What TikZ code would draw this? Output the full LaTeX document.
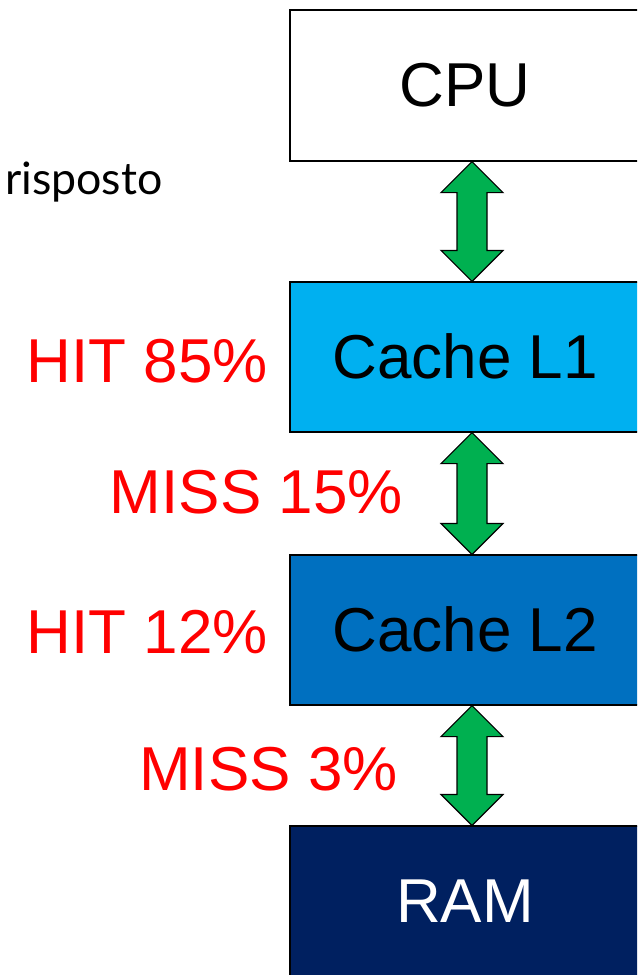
\documentclass[tikz,border=0pt]{standalone}
\usepackage{fontspec}
\setmainfont{Liberation Sans}
\newfontfamily\gillfont{Lato}
\usetikzlibrary{calc}
\definecolor{lone}{HTML}{00B0F0}
\definecolor{ltwo}{HTML}{0070C0}
\definecolor{ramblue}{HTML}{002060}
\definecolor{arrgreen}{HTML}{00B050}
\definecolor{hitred}{HTML}{FF0000}
\newcommand{\vdarrow}[2]{%
  \draw[garrow] let \p1=($(#1.south)+(7,0)$), \p2=($(#2.north)+(7,0)$) in
   (\x1,\y1) -- (\x1+23.25pt,\y1-23.25pt) -- (\x1+11.25pt,\y1-23.25pt)
   -- (\x2+11.25pt,\y2+23.25pt) -- (\x2+23.25pt,\y2+23.25pt) -- (\x2,\y2)
   -- (\x2-23.25pt,\y2+23.25pt) -- (\x2-11.25pt,\y2+23.25pt)
   -- (\x1-11.25pt,\y1-23.25pt) -- (\x1-23.25pt,\y1-23.25pt) -- cycle;}
\tikzset{
  level/.style={draw=black, line width=0.9pt, minimum width=262.5pt, minimum height=112.5pt,
    inner sep=0pt, font=\fontsize{46.5}{46.5}\selectfont, text height=32pt, text depth=0pt},
  garrow/.style={draw=black, line width=0.9pt, fill=arrgreen, line join=miter},
  ratelabel/.style={text=hitred, inner sep=0pt, anchor=base east, font=\fontsize{46.5}{46.5}\selectfont}
}
\begin{document}
\begin{tikzpicture}[x=0.75pt,y=-0.75pt]
\useasboundingbox (0,0) rectangle (637,975);
\clip (0,0) rectangle (637,975);
\node[level, fill=white, minimum height=113.25pt] (cpu) at (465,85.5) {CPU};
\node[level, fill=lone] (l1) at (465,357) {Cache L1};
\node[level, fill=ltwo] (l2) at (465,630) {Cache L2};
\node[level, fill=ramblue, text=white] (ram) at (465,901) {RAM};
\vdarrow{cpu}{l1}
\vdarrow{l1}{l2}
\vdarrow{l2}{ram}
\node[ratelabel] (hit1) at (268,382) {HIT 85\%};
\node[ratelabel] (miss1) at (403,513) {MISS 15\%};
\node[ratelabel] (hit2) at (268,653) {HIT 12\%};
\node[ratelabel] (miss2) at (398,790) {MISS 3\%};
\node[inner sep=0pt, anchor=base west, font=\gillfont\fontsize{33.5}{33.5}\selectfont] (risp) at (5,194) {risposto};
\end{tikzpicture}
\end{document}
